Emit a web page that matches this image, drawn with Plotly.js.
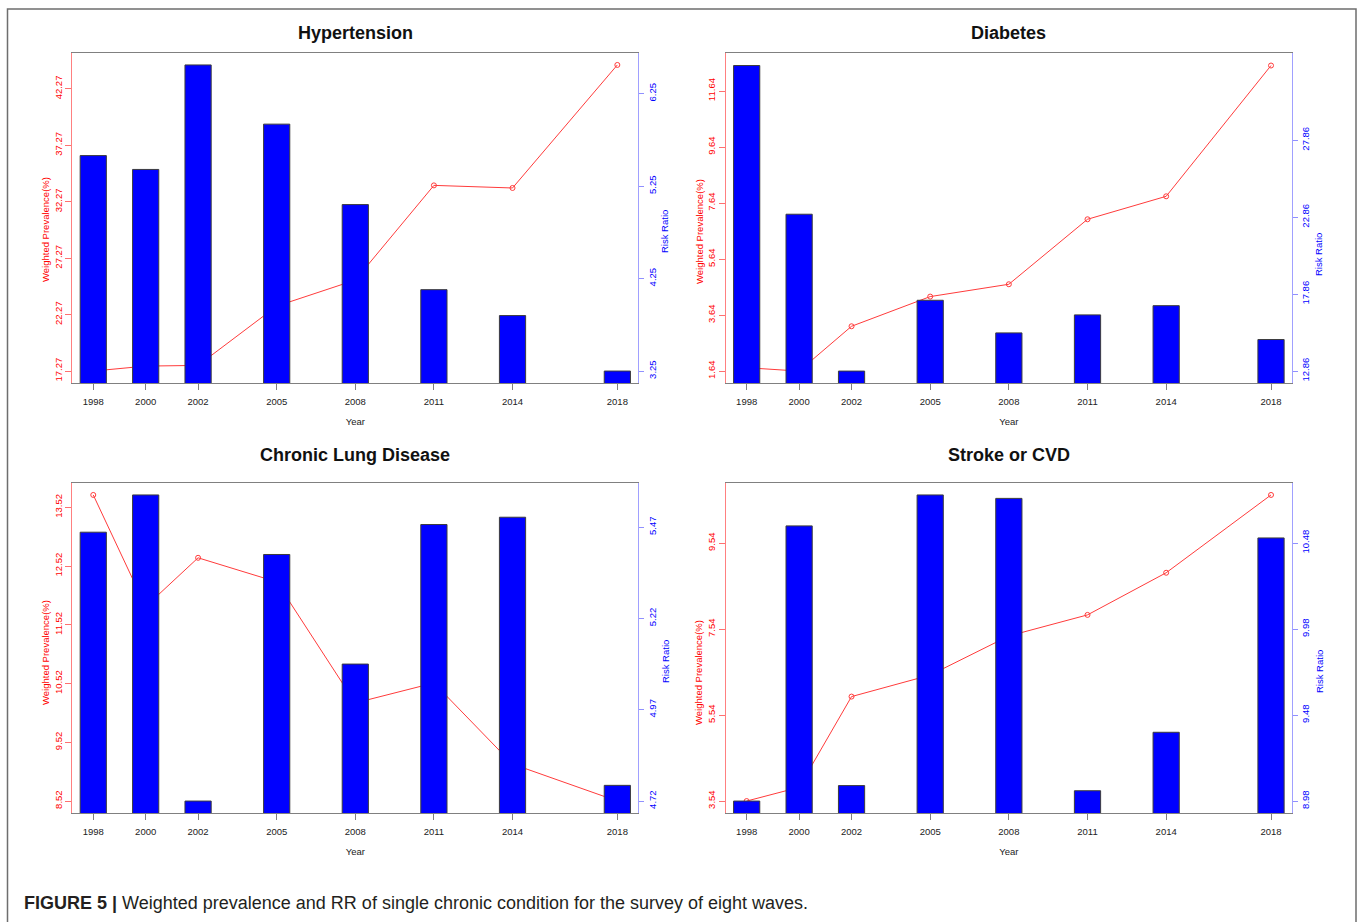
<!DOCTYPE html>
<html>
<head>
<meta charset="utf-8">
<script src="https://cdn.plot.ly/plotly-3.0.1.min.js"></script>
<style>
  html, body { margin: 0; padding: 0; background: #ffffff; }
  #chart { width: 1358px; height: 922px; }
</style>
</head>
<body>
<div id="chart"></div>
<script>
// ---------------- data ----------------
const years = [1998, 2000, 2002, 2005, 2008, 2011, 2014, 2018];

const hypPrev = [17.27, 17.71, 17.77, 23.02, 25.33, 33.72, 33.49, 44.39];
const hypRR   = [5.58, 5.43, 6.56, 5.92, 5.05, 4.13, 3.85, 3.25];
const hypTicksL = [17.27, 22.27, 27.27, 32.27, 37.27, 42.27];
const hypTicksR = [3.25, 4.25, 5.25, 6.25];

const diaPrev = [1.76, 1.64, 3.24, 4.30, 4.74, 7.06, 7.88, 12.55];
const diaRR   = [32.71, 23.05, 12.86, 17.46, 15.34, 16.51, 17.11, 14.91];
const diaTicksL = [1.64, 3.64, 5.64, 7.64, 9.64, 11.64];
const diaTicksR = [12.86, 17.86, 22.86, 27.86];

const cldPrev = [13.73, 11.83, 12.66, 12.25, 10.19, 10.53, 9.15, 8.52];
const cldRR   = [5.456, 5.558, 4.72, 5.395, 5.095, 5.477, 5.497, 4.763];
const cldTicksL = [8.52, 9.52, 10.52, 11.52, 12.52, 13.52];
const cldTicksR = [4.72, 4.97, 5.22, 5.47];

const strPrev = [3.54, 3.86, 5.97, 6.47, 7.38, 7.87, 8.85, 10.66];
const strRR   = [8.98, 10.58, 9.07, 10.76, 10.74, 9.04, 9.38, 10.51];
const strTicksL = [3.54, 5.54, 7.54, 9.54];
const strTicksR = [8.98, 9.48, 9.98, 10.48];

const panelTitles = ["Hypertension", "Diabetes", "Chronic Lung Disease", "Stroke or CVD"];
const leftLabel = "Weighted Prevalence(%)";
const rightLabel = "Risk Ratio";
const xLabel = "Year";
const caption = "<b>FIGURE 5 |</b> Weighted prevalence and RR of single chronic condition for the survey of eight waves.";

// ---------------- layout helpers ----------------
const W = 1358, H = 922;
const px = v => v / W;
const py = v => 1 - v / H;
const FONT = "Liberation Sans, Arial, Helvetica, sans-serif";
const RED = "#ff0000", BLUE = "#0000ff";

// R-style axis range: data range extended by 4% on each side
function rRange(arr) {
  const lo = Math.min(...arr), hi = Math.max(...arr);
  const d = (hi - lo) * 0.04;
  return [lo - d, hi + d];
}

const panels = [
  {prev: hypPrev, rr: hypRR, tl: hypTicksL, tr: hypTicksR, box: [72.3, 638.3, 52.7, 383.3],
   titleY: 33, lLab: [45, 230], rLab: [665, 232]},
  {prev: diaPrev, rr: diaRR, tl: diaTicksL, tr: diaTicksR, box: [725.7, 1292, 53.3, 383.3],
   titleY: 33, lLab: [699, 231], rLab: [1319, 255]},
  {prev: cldPrev, rr: cldRR, tl: cldTicksL, tr: cldTicksR, box: [72.3, 638.3, 482.7, 813.3],
   titleY: 455, lLab: [45, 653], rLab: [665, 662]},
  {prev: strPrev, rr: strRR, tl: strTicksL, tr: strTicksR, box: [725.7, 1292, 482.7, 813.3],
   titleY: 455, lLab: [698, 672], rLab: [1319, 672]}
];

const data = [];
const layout = {
  width: W, height: H,
  margin: {l: 0, r: 0, t: 0, b: 0, pad: 0},
  paper_bgcolor: "#ffffff", plot_bgcolor: "#ffffff",
  showlegend: false,
  font: {family: FONT, size: 10, color: "#222222"},
  annotations: [],
  shapes: [{
    type: "rect", xref: "paper", yref: "paper",
    x0: px(7.5), x1: px(1356), y0: -0.05, y1: py(9),
    line: {color: "#6e6e6e", width: 1.5}
  }]
};

const xRange = rRange(years);

panels.forEach((p, i) => {
  const n = i + 1;
  const xa = "x" + (n === 1 ? "" : n);
  const yl = 2 * i + 1, yr = 2 * i + 2;
  const ylName = "y" + (yl === 1 ? "" : yl);
  const yrName = "y" + yr;
  const [bx0, bx1, by0, by1] = p.box;
  const xDom = [px(bx0), px(bx1)];
  const yDom = [py(by1), py(by0)];

  data.push({
    type: "scatter", mode: "lines+markers",
    x: years, y: p.prev, xaxis: xa, yaxis: ylName,
    line: {color: "#ff3b3b", width: 1},
    marker: {symbol: "circle-open", size: 5, color: "#ff3b3b", line: {width: 1}},
    hoverinfo: "skip"
  });
  data.push({
    type: "bar", x: years, y: p.rr, xaxis: xa, yaxis: yrName,
    width: 1,
    marker: {color: BLUE, line: {color: "#3c3c3c", width: 1}},
    hoverinfo: "skip"
  });

  layout["xaxis" + (n === 1 ? "" : n)] = {
    domain: xDom, anchor: ylName, range: xRange,
    tickmode: "array", tickvals: years, ticktext: years.map(String),
    ticks: "outside", ticklen: 6, tickcolor: "#808080", tickwidth: 1,
    ticklabelstandoff: 3,
    tickfont: {family: FONT, size: 9.5, color: "#222222"},
    showline: true, linecolor: "#808080", linewidth: 1, mirror: true,
    showgrid: false, zeroline: false, fixedrange: true,
    title: {text: xLabel, font: {family: FONT, size: 9.5, color: "#222222"}, standoff: 12}
  };
  layout["yaxis" + (yl === 1 ? "" : yl)] = {
    domain: yDom, anchor: xa, range: rRange(p.prev), side: "left",
    tickmode: "array", tickvals: p.tl, ticktext: p.tl.map(v => v.toFixed(2)),
    tickangle: -90, ticks: "outside", ticklen: 6, tickcolor: "#ff7070", tickwidth: 1,
    tickfont: {family: FONT, size: 9.5, color: RED},
    showline: true, linecolor: "#ff8080", linewidth: 1,
    showgrid: false, zeroline: false, fixedrange: true
  };
  layout["yaxis" + yr] = {
    overlaying: ylName, anchor: xa, range: rRange(p.rr), side: "right",
    tickmode: "array", tickvals: p.tr, ticktext: p.tr.map(v => v.toFixed(2)),
    tickangle: -90, ticks: "outside", ticklen: 5, tickcolor: "#9090ff", tickwidth: 1,
    tickfont: {family: FONT, size: 9.5, color: BLUE},
    showline: true, linecolor: "#a0a0ff", linewidth: 1,
    showgrid: false, zeroline: false, fixedrange: true
  };

  layout.annotations.push({
    text: "<b>" + panelTitles[i] + "</b>", xref: "paper", yref: "paper",
    x: (xDom[0] + xDom[1]) / 2, y: py(p.titleY), xanchor: "center", yanchor: "middle",
    showarrow: false, font: {family: FONT, size: 18, color: "#111111"}
  });
  layout.annotations.push({
    text: leftLabel, xref: "paper", yref: "paper",
    x: px(p.lLab[0]), y: py(p.lLab[1]), xanchor: "center", yanchor: "middle",
    textangle: -90, showarrow: false, font: {family: FONT, size: 9.5, color: RED}
  });
  layout.annotations.push({
    text: rightLabel, xref: "paper", yref: "paper",
    x: px(p.rLab[0]), y: py(p.rLab[1]), xanchor: "center", yanchor: "middle",
    textangle: -90, showarrow: false, font: {family: FONT, size: 9.5, color: BLUE}
  });
});

layout.annotations.push({
  text: caption, xref: "paper", yref: "paper",
  x: px(22), y: py(903), xanchor: "left", yanchor: "middle",
  showarrow: false,
  font: {family: "Liberation Sans, Arial, sans-serif", size: 18, color: "#231f20"}
});

Plotly.newPlot("chart", data, layout, {staticPlot: true, displayModeBar: false});
</script>
</body>
</html>
